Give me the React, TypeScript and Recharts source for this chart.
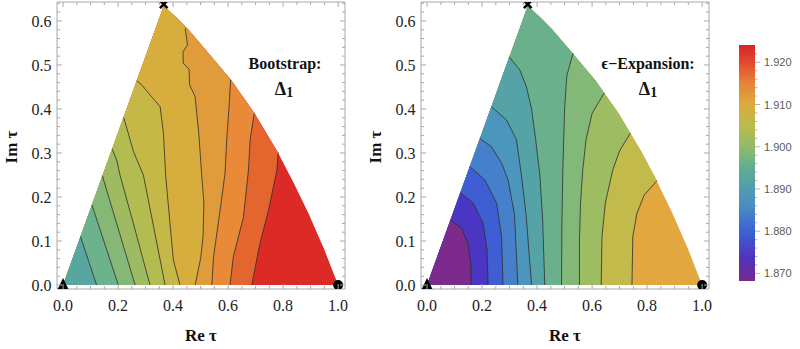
import React from "react";
import { ScatterChart, Scatter, XAxis, YAxis, BarChart, Bar } from "recharts";

type Pt = [number, number];

// outer boundary of the domain, from the top corner down to (1, 0)
const arcPts: Pt[] = [
    [0.366, 0.634], [0.41, 0.609], [0.456, 0.58], [0.528, 0.527], [0.611, 0.466],
    [0.696, 0.39], [0.781, 0.301], [0.84, 0.23], [0.892, 0.163], [0.95, 0.08], [1.0, 0.0],
];

// Bootstrap contours, left to right, each from the real axis to its end on the boundary
const bootContours: Pt[][] = [
    [[0.122, 0], [0.0635, 0.11]],
    [[0.201, 0], [0.105, 0.182]],
    [[0.262, 0], [0.143, 0.248]],
    [[0.316, 0], [0.26, 0.13], [0.207, 0.25], [0.195, 0.284], [0.1784, 0.309]],
    [[0.371, 0], [0.33, 0.13], [0.292, 0.25], [0.256, 0.303], [0.232, 0.356], [0.22, 0.381]],
    [[0.425, 0], [0.401, 0.057], [0.38, 0.2], [0.373, 0.25], [0.365, 0.345], [0.353, 0.405], [0.3, 0.444], [0.29, 0.452], [0.268, 0.464]],
    [[0.48, 0], [0.5, 0.06], [0.509, 0.11], [0.512, 0.186], [0.504, 0.25], [0.494, 0.34], [0.48, 0.428], [0.46, 0.455], [0.458, 0.49], [0.437, 0.504], [0.436, 0.53], [0.452, 0.545], [0.45, 0.557], [0.444, 0.583]],
    [[0.541, 0], [0.547, 0.064], [0.571, 0.17], [0.589, 0.255], [0.595, 0.33], [0.605, 0.42], [0.609, 0.467]],
    [[0.607, 0], [0.619, 0.064], [0.656, 0.155], [0.674, 0.261], [0.68, 0.33], [0.695, 0.39]],
    [[0.686, 0], [0.716, 0.095], [0.747, 0.17], [0.777, 0.26], [0.782, 0.301]],
];
const bootColors = [
    "#58a6a0", "#6cb28c", "#85b876", "#9ebb61", "#b2bc50", "#c6b846",
    "#d7ae3e", "#e09c3a", "#e88a37", "#e5652f", "#dc2a27",
];

// epsilon-expansion contours
const epsContours: Pt[][] = [
    [[0.16, 0], [0.159, 0.045], [0.15, 0.091], [0.126, 0.129], [0.085, 0.147]],
    [[0.222, 0], [0.218, 0.08], [0.204, 0.14], [0.168, 0.186], [0.121, 0.21]],
    [[0.276, 0], [0.271, 0.11], [0.253, 0.186], [0.21, 0.239], [0.155, 0.269]],
    [[0.33, 0], [0.318, 0.16], [0.295, 0.238], [0.271, 0.277], [0.234, 0.314], [0.192, 0.333]],
    [[0.38, 0], [0.36, 0.16], [0.343, 0.25], [0.325, 0.33], [0.289, 0.375], [0.234, 0.405]],
    [[0.428, 0], [0.42, 0.15], [0.41, 0.25], [0.395, 0.33], [0.38, 0.4], [0.361, 0.451], [0.337, 0.489], [0.299, 0.518]],
    [[0.489, 0], [0.49, 0.13], [0.494, 0.27], [0.5, 0.4], [0.508, 0.475], [0.531, 0.527]],
    [[0.554, 0], [0.554, 0.1], [0.558, 0.186], [0.566, 0.261], [0.578, 0.33], [0.6, 0.39], [0.644, 0.436]],
    [[0.633, 0], [0.636, 0.11], [0.648, 0.186], [0.675, 0.261], [0.7, 0.305], [0.739, 0.345]],
    [[0.745, 0], [0.748, 0.11], [0.763, 0.163], [0.79, 0.205], [0.836, 0.237]],
];
const epsColors = [
    "#7c2b8c", "#4b35c3", "#3f5ed3", "#4680cb", "#4c96bd", "#55a3a6",
    "#6ab08c", "#82b878", "#9ebc62", "#c2ba4a", "#e2a73f",
];

const xMajor = [0, 0.2, 0.4, 0.6, 0.8, 1.0];
const xMinor = [0.05, 0.1, 0.15, 0.25, 0.3, 0.35, 0.45, 0.5, 0.55, 0.65, 0.7, 0.75, 0.85, 0.9, 0.95];
const yMajor = [0, 0.1, 0.2, 0.3, 0.4, 0.5, 0.6];
const yMinor = [
    0.02, 0.04, 0.06, 0.08, 0.12, 0.14, 0.16, 0.18, 0.22, 0.24, 0.26, 0.28, 0.32,
    0.34, 0.36, 0.38, 0.42, 0.44, 0.46, 0.48, 0.52, 0.54, 0.56, 0.58, 0.62, 0.64,
];

const cbRange = [1.8682, 1.9241];
const cbMajor = [1.87, 1.88, 1.89, 1.9, 1.91, 1.92];
const cbMinor = [
    1.872, 1.874, 1.876, 1.878, 1.882, 1.884, 1.886, 1.888, 1.892, 1.894, 1.896, 1.898,
    1.902, 1.904, 1.906, 1.908, 1.912, 1.914, 1.916, 1.918, 1.922,
];
const cbStops: [number, string][] = [
    [1.8682, "#772a8c"], [1.874, "#4e35c0"], [1.88, "#3d62d2"], [1.886, "#4b8dc2"],
    [1.89, "#4f9dae"], [1.895, "#62ad91"], [1.9, "#92ba6b"], [1.905, "#bbbb4e"],
    [1.91, "#dcaa3f"], [1.915, "#e7833a"], [1.92, "#e04a2d"], [1.9241, "#d92426"],
];

const X_DOMAIN = [-0.022, 1.025];
const Y_DOMAIN = [-0.009, 0.643];
const FRAME = "#a8a8a8";
const SERIF = '"Liberation Serif", "Times New Roman", serif';
const SANS = '"Liberation Sans", Arial, sans-serif';

const xTicks = [...xMajor, ...xMinor];
const yTicks = [...yMajor, ...yMinor];

const toXY = (pts: Pt[]) => pts.map(([x, y]) => ({ x, y }));
const onLeftEdge = (p: Pt) => Math.abs(p[1] - p[0] * 1.732) < 0.012;

// polygon of everything left of a contour (closes back to the origin along the left edge)
function leftOf(c: Pt[]): Pt[] {
    const end = c[c.length - 1];
    const tail = onLeftEdge(end) ? [] : arcPts.filter((p) => p[0] < end[0] - 0.002).reverse();
    return [[0, 0], ...c, ...tail];
}

const noShape = () => <g />;

const BottomTick = (p: any) => {
    const major = xMajor.includes(p.payload.value);
    return (
        <g>
            <line x1={p.x} x2={p.x} y1={p.y} y2={p.y - (major ? 5 : 3)} stroke={FRAME} />
            {major && (
                <text x={p.x} y={p.y + 21.5} textAnchor="middle" fontSize={16} fontFamily={SERIF} fill="#222">
                    {p.payload.value.toFixed(1)}
                </text>
            )}
        </g>
    );
};
const TopTick = (p: any) => {
    const major = xMajor.includes(p.payload.value);
    return <line x1={p.x} x2={p.x} y1={p.y} y2={p.y + (major ? 5 : 3)} stroke={FRAME} />;
};
const LeftTick = (p: any) => {
    const major = yMajor.includes(p.payload.value);
    return (
        <g>
            <line x1={p.x} x2={p.x + (major ? 5 : 3)} y1={p.y} y2={p.y} stroke={FRAME} />
            {major && (
                <text x={p.x - 5.5} y={p.y + 5.6} textAnchor="end" fontSize={16} fontFamily={SERIF} fill="#222">
                    {p.payload.value.toFixed(1)}
                </text>
            )}
        </g>
    );
};
const RightTick = (p: any) => {
    const major = yMajor.includes(p.payload.value);
    return <line x1={p.x} x2={p.x - (major ? 5 : 3)} y1={p.y} y2={p.y} stroke={FRAME} />;
};

const Triangle = (p: any) => (
    <polygon points={`${p.cx},${p.cy - 7} ${p.cx - 5.5},${p.cy + 4.3} ${p.cx + 5.5},${p.cy + 4.3}`} fill="#000" />
);
const Dot = (p: any) => <circle cx={p.cx} cy={p.cy} r={5} fill="#000" />;
const Cross = (p: any) => (
    <g stroke="#000" strokeWidth={2.6}>
        <line x1={p.cx - 3.8} y1={p.cy - 5.5} x2={p.cx + 3.8} y2={p.cy + 2.1} />
        <line x1={p.cx + 3.8} y1={p.cy - 5.5} x2={p.cx - 3.8} y2={p.cy + 2.1} />
    </g>
);

const Panel = ({ contours, colors, left }: { contours: Pt[][]; colors: string[]; left: number }) => {
    const region: Pt[] = [[0, 0], ...arcPts];
    const layers = contours.map((c, i) => ({ poly: leftOf(c), color: colors[i] })).reverse();
    const common = { xAxisId: "b", yAxisId: "l", isAnimationActive: false, shape: noShape };
    return (
        <div style={{ position: "absolute", left, top: 0 }}>
            <ScatterChart width={360} height={349} margin={{ top: 0, right: 14, bottom: 0, left: 0 }}>
                <XAxis xAxisId="t" dataKey="x" type="number" orientation="top" height={2} domain={X_DOMAIN}
                    allowDataOverflow ticks={xTicks} interval={0} tickSize={0} tickMargin={0} tickLine={false}
                    axisLine={{ stroke: FRAME }} tick={TopTick} />
                <XAxis xAxisId="b" dataKey="x" type="number" orientation="bottom" height={60} domain={X_DOMAIN}
                    allowDataOverflow ticks={xTicks} interval={0} tickSize={0} tickMargin={0} tickLine={false}
                    axisLine={{ stroke: FRAME }} tick={BottomTick} />
                <YAxis yAxisId="l" dataKey="y" type="number" orientation="left" width={57} domain={Y_DOMAIN}
                    allowDataOverflow ticks={yTicks} interval={0} tickSize={0} tickMargin={0} tickLine={false}
                    axisLine={{ stroke: FRAME }} tick={LeftTick} />
                <YAxis yAxisId="r" dataKey="y" type="number" orientation="right" width={1} domain={Y_DOMAIN}
                    allowDataOverflow ticks={yTicks} interval={0} tickSize={0} tickMargin={0} tickLine={false}
                    axisLine={{ stroke: FRAME }} tick={RightTick} />

                <Scatter {...common} data={toXY(region)} line={{ fill: colors[colors.length - 1], stroke: "none" }} />
                {layers.map((l, i) => (
                    <Scatter key={`band-${i}`} {...common} data={toXY(l.poly)} line={{ fill: l.color, stroke: "none" }} />
                ))}
                {contours.map((c, i) => (
                    <Scatter key={`line-${i}`} {...common} data={toXY(c)}
                        line={{ stroke: "#2e2e2e", strokeWidth: 1, strokeOpacity: 0.8, fill: "none" }} />
                ))}
                <Scatter xAxisId="b" yAxisId="l" isAnimationActive={false} data={toXY([[0, 0]])} shape={Triangle} />
                <Scatter xAxisId="b" yAxisId="l" isAnimationActive={false} data={toXY([[1, 0]])} shape={Dot} />
                <Scatter xAxisId="b" yAxisId="l" isAnimationActive={false} data={toXY([arcPts[0]])} shape={Cross} />
            </ScatterChart>
        </div>
    );
};

const CbTick = (p: any) => {
    const major = cbMajor.includes(p.payload.value);
    return (
        <g>
            <line x1={p.x} x2={p.x + (major ? 5 : 2.5)} y1={p.y} y2={p.y} stroke="#b5b5b5" />
            {major && (
                <text x={p.x + 9} y={p.y + 4} fontSize={11} fontFamily={SANS} fill="#5a5a5a">
                    {p.payload.value.toFixed(3)}
                </text>
            )}
        </g>
    );
};

const cbData = [{ name: "legend", range: cbRange }];

const ColorBar = () => {
    const span = cbRange[1] - cbRange[0];
    return (
        <div style={{ position: "absolute", left: 700, top: 0 }}>
            <BarChart width={100} height={349} data={cbData} barCategoryGap={0}
                margin={{ top: 45, right: 0, bottom: 68, left: 39 }}>
                <defs>
                    <linearGradient id="cbGrad" x1="0" y1="1" x2="0" y2="0">
                        {cbStops.map(([v, c]) => (
                            <stop key={v} offset={(v - cbRange[0]) / span} stopColor={c} />
                        ))}
                    </linearGradient>
                </defs>
                <XAxis dataKey="name" hide />
                <YAxis type="number" orientation="right" width={45} domain={cbRange} allowDataOverflow
                    ticks={[...cbMajor, ...cbMinor]} interval={0} tickSize={0} tickMargin={0}
                    tickLine={false} axisLine={false} tick={CbTick} />
                <Bar dataKey="range" fill="url(#cbGrad)" isAnimationActive={false} />
            </BarChart>
        </div>
    );
};

export default function App() {
    return (
        <div style={{ position: "absolute", left: 0, top: 0, width: 800, height: 349, background: "#fff" }}>
            <Panel contours={bootContours} colors={bootColors} left={0} />
            <Panel contours={epsContours} colors={epsColors} left={364} />
            <ColorBar />
            <svg width={800} height={349} style={{ position: "absolute", left: 0, top: 0, pointerEvents: "none" }}
                fontFamily={SERIF} fontWeight="bold" fill="#111">
                <text x={201} y={341} textAnchor="middle" fontSize={17}>Re τ</text>
                <text x={565} y={341} textAnchor="middle" fontSize={17}>Re τ</text>
                <text x={16.7} y={147} textAnchor="middle" fontSize={17} transform="rotate(-90 16.7 147)">Im τ</text>
                <text x={380.7} y={147} textAnchor="middle" fontSize={17} transform="rotate(-90 380.7 147)">Im τ</text>
                <text x={285} y={69} textAnchor="middle" fontSize={16}>Bootstrap:</text>
                <text x={284} y={95} textAnchor="middle">
                    <tspan fontSize={18}>Δ</tspan>
                    <tspan fontSize={14} dy={2}>1</tspan>
                </text>
                <text x={648} y={69} textAnchor="middle" fontSize={16}>ϵ−Expansion:</text>
                <text x={648} y={95} textAnchor="middle">
                    <tspan fontSize={18}>Δ</tspan>
                    <tspan fontSize={14} dy={2}>1</tspan>
                </text>
            </svg>
        </div>
    );
}
